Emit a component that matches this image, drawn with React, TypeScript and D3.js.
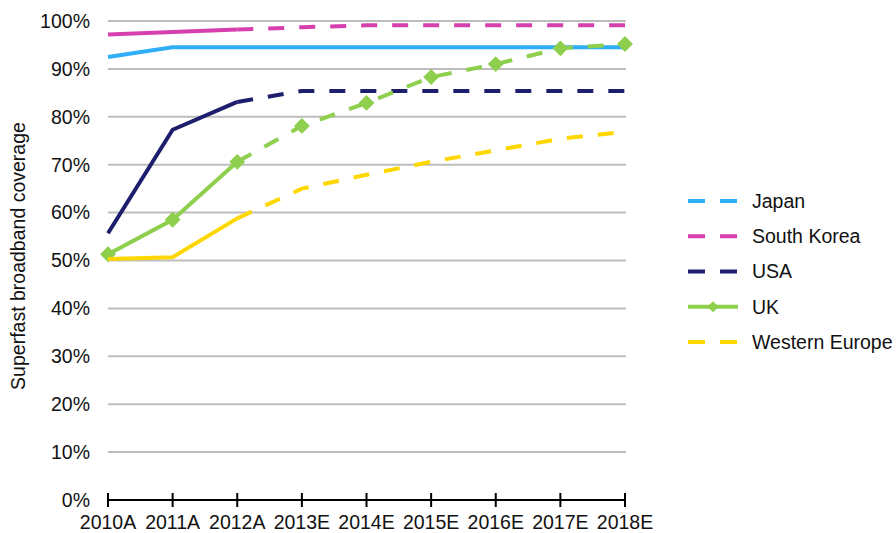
import React from "react";
import * as d3 from "d3";

const years = ["2010A", "2011A", "2012A", "2013E", "2014E", "2015E", "2016E", "2017E", "2018E"];
const japan = [92.5, 94.5, 94.5, 94.5, 94.5, 94.5, 94.5, 94.5, 94.5];
const southKorea = [97.2, 97.7, 98.2, 98.7, 99.1, 99.1, 99.1, 99.1, 99.1];
const usa = [55.7, 77.3, 83.1, 85.4, 85.4, 85.4, 85.4, 85.4, 85.4];
const uk = [51.3, 58.5, 70.6, 78.1, 82.9, 88.3, 91.0, 94.3, 95.2];
const westernEurope = [50.3, 50.7, 58.8, 65.0, 67.9, 70.6, 73.0, 75.4, 76.9];
const yTicks = [0, 10, 20, 30, 40, 50, 60, 70, 80, 90, 100];

// index where estimates start (dashed from here on)
const actualEnd = 2;

const series = [
  { name: "Japan", values: japan, color: "#2EAEF7", allSolid: true, marker: false },
  { name: "South Korea", values: southKorea, color: "#D63FAE", allSolid: false, marker: false },
  { name: "USA", values: usa, color: "#1E1E6E", allSolid: false, marker: false },
  { name: "UK", values: uk, color: "#8ECF4E", allSolid: false, marker: true },
  { name: "Western Europe", values: westernEurope, color: "#FFD700", allSolid: false, marker: false },
];

const W = 896;
const H = 533;
const left = 108;
const right = 625;
const top = 21;
const bottom = 500;
const font = "'Liberation Sans', Arial, sans-serif";
const fs = 19.5;
const dash = "16,15";

export default function App() {
  const x = d3.scalePoint<string>().domain(years).range([left, right]);
  const y = d3.scaleLinear().domain([0, 100]).range([bottom, top]);
  const line = d3
    .line<number>()
    .x((_, i) => x(years[i]) as number)
    .y((d) => y(d));
  const lineFrom = (vals: number[], start: number) =>
    d3
      .line<number>()
      .x((_, i) => x(years[i + start]) as number)
      .y((d) => y(d))(vals.slice(start));

  const diamond = d3.symbol().type(d3.symbolDiamond2).size(160)();
  const legendY = d3.scaleLinear().domain([0, 4]).range([201, 342]);

  return (
    <svg width={W} height={H} style={{ position: "absolute", left: 0, top: 0 }}>
      <rect width={W} height={H} fill="#fff" />
      {yTicks.map((t) => (
        <g key={t}>
          {t > 0 && (
            <line x1={left} x2={right + 1} y1={y(t)} y2={y(t)} stroke="#BDBDBD" strokeWidth={2} />
          )}
          <text x={90} y={y(t)} dy="0.35em" textAnchor="end" fontFamily={font} fontSize={fs} fill="#111">
            {t}%
          </text>
        </g>
      ))}
      <text
        transform={`translate(25,256) rotate(-90)`}
        textAnchor="middle"
        fontFamily={font}
        fontSize={fs}
        fill="#111"
      >
        Superfast broadband coverage
      </text>
      <line x1={left} x2={right} y1={bottom} y2={bottom} stroke="#000" strokeWidth={2} />
      {years.map((yr) => (
        <g key={yr}>
          <line x1={x(yr)} x2={x(yr)} y1={bottom - 7} y2={bottom + 7} stroke="#000" strokeWidth={2} />
          <text x={x(yr)} y={522} dy="0.35em" textAnchor="middle" fontFamily={font} fontSize={fs} fill="#111">
            {yr}
          </text>
        </g>
      ))}
      {series.map((s) => (
        <g key={s.name}>
          {s.allSolid ? (
            <path d={line(s.values) || ""} fill="none" stroke={s.color} strokeWidth={4} />
          ) : (
            <>
              <path d={line(s.values.slice(0, actualEnd + 1)) || ""} fill="none" stroke={s.color} strokeWidth={4} />
              <path
                d={lineFrom(s.values, actualEnd) || ""}
                fill="none"
                stroke={s.color}
                strokeWidth={4}
                strokeDasharray={dash}
              />
            </>
          )}
          {s.marker &&
            s.values.map((v, i) => (
              <path key={i} d={diamond || ""} transform={`translate(${x(years[i])},${y(v)})`} fill={s.color} />
            ))}
        </g>
      ))}
      {series.map((s, i) => {
        const ly = legendY(i);
        return (
          <g key={s.name}>
            <line x1={688} x2={738} y1={ly} y2={ly} stroke={s.color} strokeWidth={4} strokeDasharray={s.marker ? undefined : "17,15"} />
            {s.marker && (
              <path d={d3.symbol().type(d3.symbolDiamond2).size(80)() || ""} transform={`translate(713,${ly})`} fill={s.color} />
            )}
            <text x={752} y={ly} dy="0.35em" fontFamily={font} fontSize={fs} fill="#111">
              {s.name}
            </text>
          </g>
        );
      })}
    </svg>
  );
}
